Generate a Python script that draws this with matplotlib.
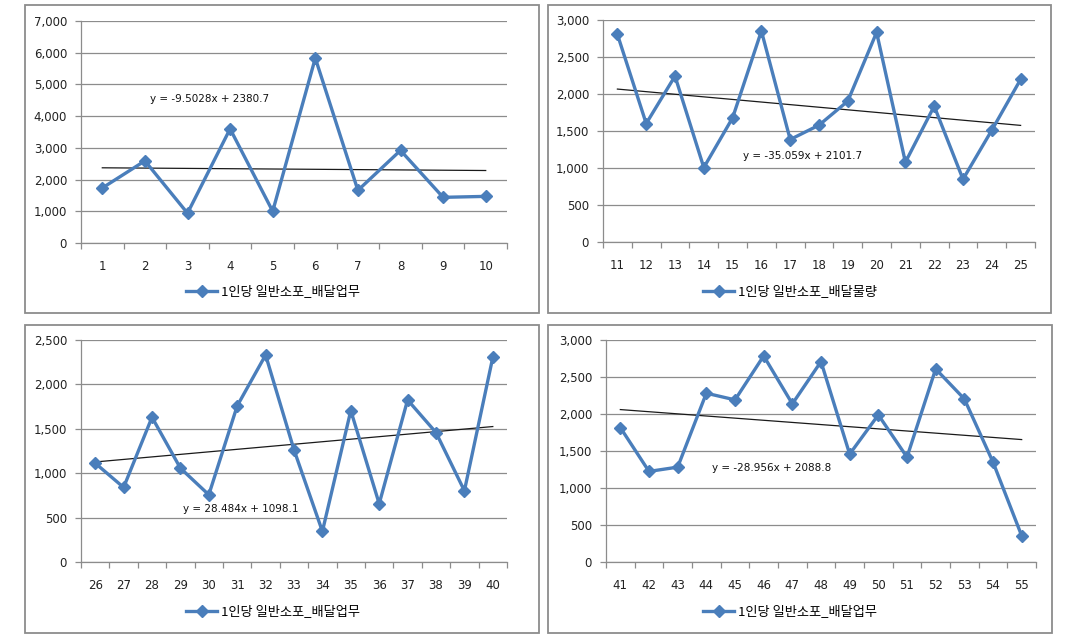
import matplotlib
matplotlib.use("Agg")
import matplotlib.pyplot as plt
import numpy as np
from matplotlib.patches import Rectangle
from matplotlib.ticker import FuncFormatter, MultipleLocator, FixedLocator

# ---------------- data ----------------
cats1 = list(range(1, 11))
vals1 = [1735, 2590, 940, 3600, 1000, 5830, 1660, 2920, 1440, 1470]
eq1 = "y = -9.5028x + 2380.7"
slope1, icpt1 = -9.5028, 2380.7
label1 = "1인당 일반소포_배달업무"

cats2 = list(range(11, 26))
vals2 = [2806, 1601, 2242, 1006, 1678, 2851, 1385, 1579, 1904, 2833, 1078, 1836, 848, 1511, 2197]
eq2 = "y = -35.059x + 2101.7"
slope2, icpt2 = -35.059, 2101.7
label2 = "1인당 일반소포_배달물량"

cats3 = list(range(26, 41))
vals3 = [1113, 840, 1630, 1057, 757, 1758, 2331, 1263, 345, 1705, 656, 1825, 1458, 802, 2305]
eq3 = "y = 28.484x + 1098.1"
slope3, icpt3 = 28.484, 1098.1
label3 = "1인당 일반소포_배달업무"

cats4 = list(range(41, 56))
vals4 = [1817, 1224, 1282, 2281, 2191, 2785, 2137, 2708, 1458, 1988, 1417, 2609, 2204, 1350, 355]
eq4 = "y = -28.956x + 2088.8"
slope4, icpt4 = -28.956, 2088.8
label4 = "1인당 일반소포_배달업무"

ymax = [7000, 3000, 2500, 3000]
ystep = [1000, 500, 500, 500]

W, H = 1074, 640
fig = plt.figure(figsize=(W / 100, H / 100), dpi=100)
fig.patch.set_facecolor("white")

def px(x0, y0, x1, y1):
    return [x0 / W, 1 - y1 / H, (x1 - x0) / W, (y1 - y0) / H]

# panel frames (pixel coords)
frames = [(25, 5, 539, 313), (548, 5, 1051, 313), (25, 325, 539, 633), (548, 325, 1052, 633)]
plots = [(81, 21, 507, 243), (603, 20, 1035, 242), (81, 340, 507, 562), (606, 340, 1036, 562)]
eqpos = [(0.162, 0.649), (0.324, 0.387), (0.239, 0.239), (0.247, 0.423)]
legc = [(273, 292), (790, 292), (273, 612), (790, 612)]

for (x0, y0, x1, y1) in frames:
    fig.patches.append(Rectangle((x0 / W, 1 - y1 / H), (x1 - x0) / W, (y1 - y0) / H,
                                 transform=fig.transFigure, fill=False,
                                 edgecolor="#8c8c8c", linewidth=1.3))

series = [(cats1, vals1, eq1, slope1, icpt1, label1),
          (cats2, vals2, eq2, slope2, icpt2, label2),
          (cats3, vals3, eq3, slope3, icpt3, label3),
          (cats4, vals4, eq4, slope4, icpt4, label4)]

blue = "#4a7ebb"
grid_c = "#8c8c8c"

for i, (cats, vals, eq, sl, ic, lab) in enumerate(series):
    ax = fig.add_axes(px(*plots[i]))
    n = len(cats)
    idx = np.arange(1, n + 1)
    ax.plot(idx, vals, color=blue, linewidth=2.4, marker="D", markersize=6,
            markerfacecolor=blue, markeredgecolor=blue, label=lab, zorder=3)
    trend = sl * idx + ic
    ax.plot([idx[0], idx[-1]], [trend[0], trend[-1]], color="#1a1a1a", linewidth=0.9, zorder=2)
    ax.set_xlim(0.5, n + 0.5)
    ax.set_ylim(0, ymax[i])
    ax.yaxis.set_major_locator(MultipleLocator(ystep[i]))
    ax.yaxis.set_major_formatter(FuncFormatter(lambda v, p: f"{int(v):,}"))
    ax.grid(axis="y", color=grid_c, linewidth=0.9)
    ax.set_axisbelow(True)
    ax.xaxis.set_major_locator(FixedLocator(idx))
    ax.set_xticklabels([str(c) for c in cats])
    ax.xaxis.set_minor_locator(FixedLocator(np.arange(0.5, n + 1, 1.0)))
    ax.tick_params(axis="x", which="major", length=0, pad=12, labelsize=8.5, labelcolor="#222222")
    ax.tick_params(axis="x", which="minor", length=4, color=grid_c, width=0.9, direction="out")
    ax.tick_params(axis="y", length=4, color=grid_c, width=0.9, labelsize=8.5, pad=6, labelcolor="#222222")
    for s in ["top", "right"]:
        ax.spines[s].set_visible(False)
    for s in ["left", "bottom"]:
        ax.spines[s].set_color(grid_c)
        ax.spines[s].set_linewidth(0.9)
    ax.text(eqpos[i][0], eqpos[i][1], eq, transform=ax.transAxes, fontsize=7.5,
            va="center", ha="left", color="#111111")
    lx, ly = legc[i]
    leg = ax.legend(loc="center", bbox_to_anchor=(lx / W, 1 - ly / H),
                    bbox_transform=fig.transFigure, frameon=False,
                    prop={"family": ["Noto Sans CJK KR", "DejaVu Sans"], "size": 9.5},
                    handlelength=2.4, handletextpad=0.3)

fig.savefig("out.png", dpi=100, facecolor="white")
